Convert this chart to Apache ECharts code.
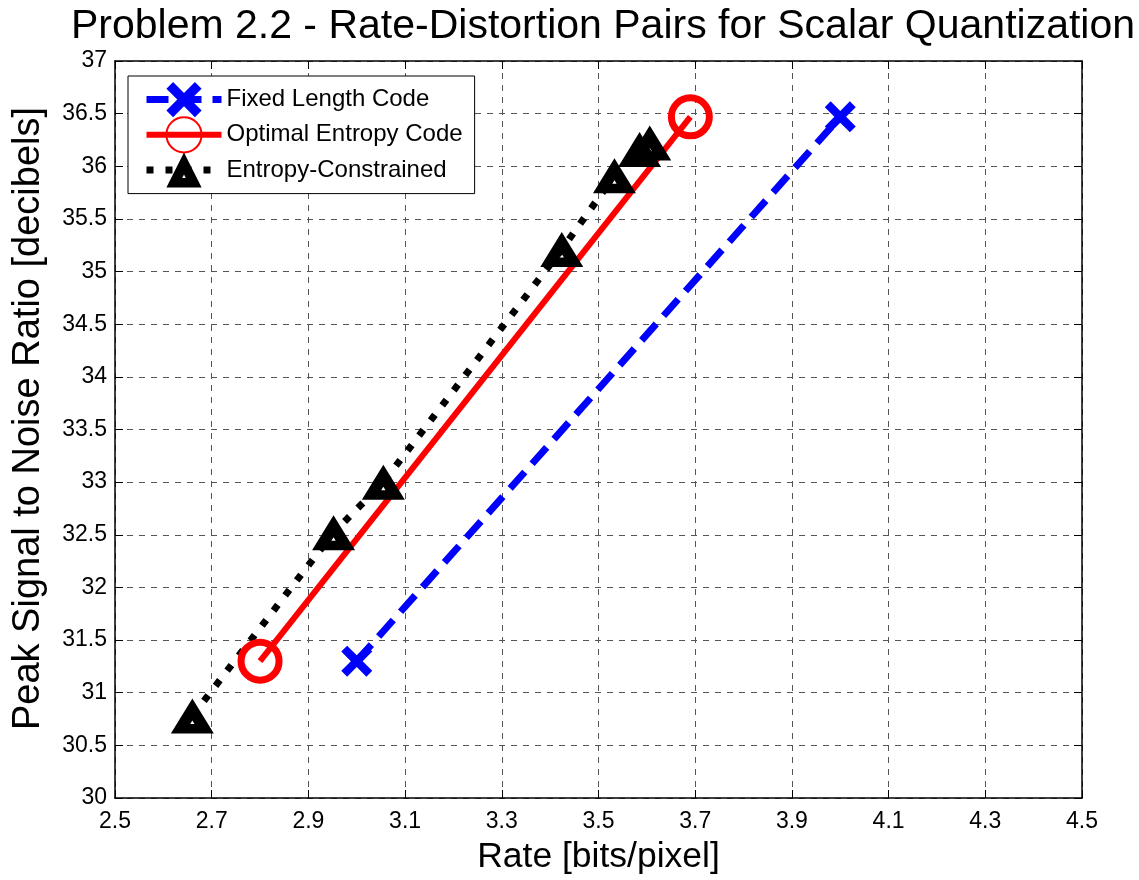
<!DOCTYPE html>
<html>
<head>
<meta charset="utf-8">
<title>Rate-Distortion Pairs</title>
<script src="https://cdn.jsdelivr.net/npm/echarts@6/dist/echarts.min.js"></script>
<style>
  html, body { margin: 0; padding: 0; background: #fff; }
  #chart { width: 1139px; height: 880px; }
</style>
</head>
<body>
<div id="chart"></div>
<script>
// data
const rateFixed = [3.0, 4.0];
const psnrFixed = [31.3, 36.47];
const rateOptimal = [2.8, 3.69];
const psnrOptimal = [31.3, 36.47];
const rateEc = [2.66, 2.952, 3.055, 3.424, 3.533, 3.585, 3.606];
const psnrEc = [30.78, 32.52, 33.0, 35.21, 35.91, 36.16, 36.22];
const seriesNames = ["Fixed Length Code", "Optimal Entropy Code", "Entropy-Constrained"];

const FONT = "'Liberation Sans', Arial, sans-serif";

// marker shapes
const crossPath = "path://M0,19 L19,0 L50,31 L81,0 L100,19 L69,50 L100,81 L81,100 L50,69 L19,100 L0,81 L31,50 Z";
const trianglePath = "path://M50,0 L100,100 L0,100 Z M50,63 L45,73 L55,73 Z";

const toPairs = (xs, ys) => xs.map((x, i) => [x, ys[i]]);

const blueLine = { color: "#0000ff", width: 7, type: [22, 11], cap: "butt" };
const redLine = { color: "#ff0000", width: 6 };
const blackLine = { color: "#000", width: 7, type: [7, 12], cap: "butt" };

const gridLine = { show: true, lineStyle: { color: "#555", width: 1, type: [6, 6] } };
const axisBase = {
  type: "value",
  axisLine: { show: true, onZero: false, lineStyle: { color: "#000", width: 1.5 } },
  axisTick: { show: true, inside: true, length: 8, lineStyle: { color: "#000" } },
};

const chart = echarts.init(document.getElementById("chart"), null, { renderer: "canvas" });

chart.setOption({
  backgroundColor: "#fff",
  animation: false,
  textStyle: { fontFamily: FONT },
  title: {
    text: "Problem 2.2 - Rate-Distortion Pairs for Scalar Quantization",
    left: 598,
    top: 1,
    textAlign: "center",
    textStyle: { fontFamily: FONT, fontSize: 41, fontWeight: "normal", color: "#000" },
  },
  grid: { left: 115, right: 57, top: 61, bottom: 79 },
  legend: {
    data: [
      { name: seriesNames[0], lineStyle: blueLine },
      { name: seriesNames[1], lineStyle: redLine },
      { name: seriesNames[2], lineStyle: blackLine },
    ],
    orient: "vertical",
    left: 128,
    top: 76,
    itemWidth: 75,
    itemHeight: 44,
    itemGap: -1,
    padding: [6, 12, 6, 15],
    backgroundColor: "#fff",
    borderColor: "#000",
    borderWidth: 1,
    textStyle: { fontFamily: FONT, fontSize: 24, color: "#000" },
  },
  xAxis: [
    Object.assign({}, axisBase, {
      position: "bottom",
      min: 2.5, max: 4.5, interval: 0.2,
      name: "Rate [bits/pixel]",
      nameLocation: "middle",
      nameGap: 41,
      nameTextStyle: { fontFamily: FONT, fontSize: 35.5, color: "#000" },
      axisLabel: { fontFamily: FONT, fontSize: 23, color: "#000", margin: 12,
        formatter: (v) => +v.toFixed(1) },
      splitLine: gridLine,
    }),
    Object.assign({}, axisBase, {
      position: "top",
      min: 2.5, max: 4.5, interval: 0.2,
      axisLabel: { show: false },
      splitLine: { show: false },
    }),
  ],
  yAxis: [
    Object.assign({}, axisBase, {
      position: "left",
      min: 30, max: 37, interval: 0.5,
      name: "Peak Signal to Noise Ratio [decibels]",
      nameLocation: "middle",
      nameGap: 67,
      nameRotate: 90,
      nameTextStyle: { fontFamily: FONT, fontSize: 38, color: "#000", padding: [0, 0, 0, 22] },
      axisLabel: { fontFamily: FONT, fontSize: 23, color: "#000", margin: 8,
        formatter: (v) => +v.toFixed(1) },
      splitLine: gridLine,
    }),
    Object.assign({}, axisBase, {
      position: "right",
      min: 30, max: 37, interval: 0.5,
      axisLabel: { show: false },
      splitLine: { show: false },
    }),
  ],
  series: [
    {
      name: seriesNames[0],
      type: "line",
      data: toPairs(rateFixed, psnrFixed),
      symbol: crossPath,
      symbolSize: 31,
      lineStyle: blueLine,
      itemStyle: { color: "#0000ff", borderWidth: 0 },
    },
    {
      name: seriesNames[1],
      type: "line",
      data: toPairs(rateOptimal, psnrOptimal),
      symbol: "circle",
      symbolSize: 38,
      lineStyle: redLine,
      itemStyle: { color: "rgba(255,255,255,0)", borderColor: "#ff0000", borderWidth: 7 },
    },
    {
      name: seriesNames[2],
      type: "line",
      data: toPairs(rateEc, psnrEc),
      symbol: trianglePath,
      symbolSize: [43, 35],
      lineStyle: blackLine,
      itemStyle: { color: "#000", borderWidth: 0 },
    },
  ],
});
</script>
</body>
</html>
